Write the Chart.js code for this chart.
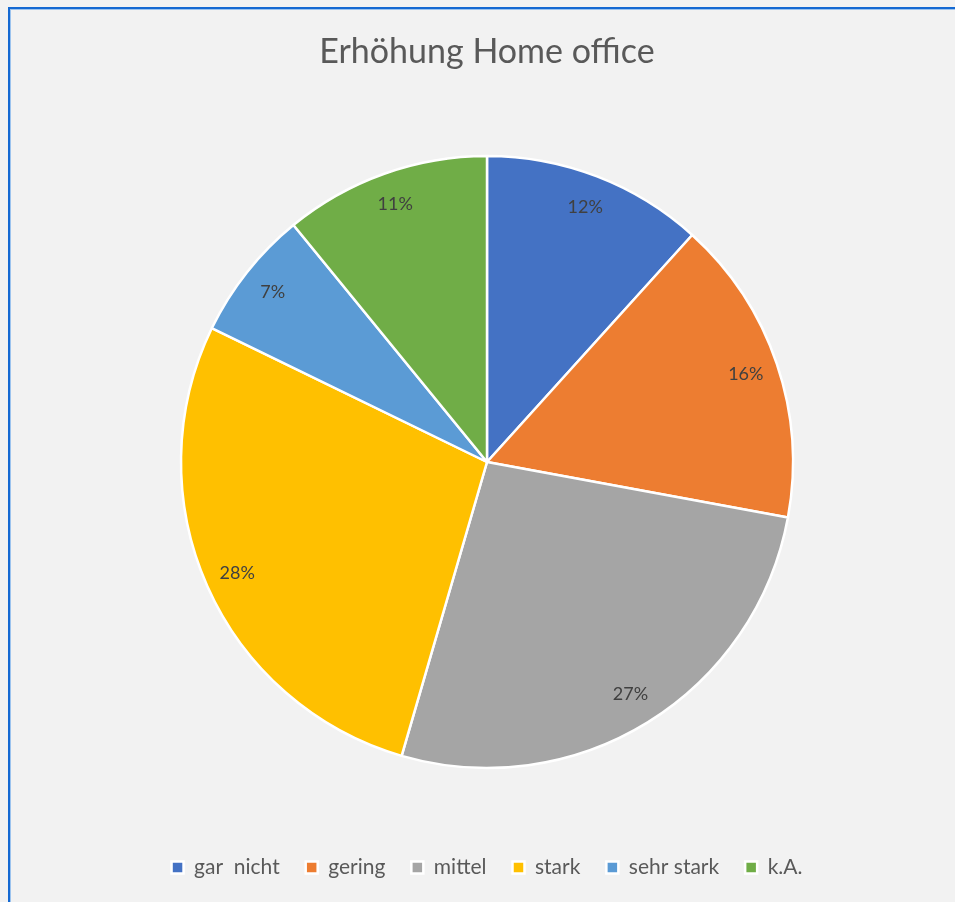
<!DOCTYPE html>
<html>
<head>
<meta charset="utf-8">
<script src="https://cdn.jsdelivr.net/npm/chart.js@4"></script>
<style>
  html, body { margin: 0; padding: 0; background: #f2f2f2; overflow: hidden; }
  #frame {
    position: absolute; left: 8px; top: 7px; width: 1000px; height: 1000px;
    border-left: 2px solid #1469d2; border-top: 2px solid #1469d2;
    box-shadow: inset 1px 1px 0 #9cc3ee;
  }
  #chart { position: absolute; left: 0; top: 0; }
</style>
</head>
<body>
<div id="frame"></div>
<canvas id="chart" width="955" height="902"></canvas>
<script>
const categories = ['gar  nicht', 'gering', 'mittel', 'stark', 'sehr stark', 'k.A.'];
const shares = [11.7, 16.2, 26.6, 27.7, 6.9, 10.9];
const shownPercent = ['12%', '16%', '27%', '28%', '7%', '11%'];
const colors = ['#4472C4', '#ED7D31', '#A5A5A5', '#FFC000', '#5B9BD5', '#70AD47'];

// Prozentwerte in den Segmenten zeichnen
const sliceLabels = {
    id: 'sliceLabels',
    afterDatasetsDraw(chart) {
        const ctx = chart.ctx;
        const meta = chart.getDatasetMeta(0);
        ctx.save();
        ctx.font = "18px Lato, 'Open Sans', sans-serif";
        ctx.fillStyle = '#404040';
        ctx.textAlign = 'center';
        ctx.textBaseline = 'middle';
        meta.data.forEach((arc, i) => {
            const p = arc.getProps(['x', 'y', 'startAngle', 'endAngle', 'outerRadius'], true);
            const mid = (p.startAngle + p.endAngle) / 2;
            const r = p.outerRadius * 0.893;
            ctx.fillText(shownPercent[i], p.x + Math.cos(mid) * r, p.y + Math.sin(mid) * r);
        });
        ctx.restore();
    }
};

new Chart(document.getElementById('chart').getContext('2d'), {
    type: 'pie',
    data: {
        labels: categories,
        datasets: [{
            data: shares,
            backgroundColor: colors,
            borderColor: '#ffffff',
            borderWidth: 2.5,
            radius: 306
        }]
    },
    options: {
        responsive: false,
        animation: false,
        devicePixelRatio: 1,
        layout: { padding: { left: 19, top: 0, right: 0, bottom: 14 } },
        plugins: {
            title: {
                display: true,
                text: 'Erhöhung Home office',
                color: '#595959',
                font: { family: "Lato, 'Open Sans', sans-serif", size: 34, weight: 'normal' },
                padding: { top: 31.6, bottom: 20.6 }
            },
            legend: {
                position: 'bottom',
                labels: {
                    color: '#595959',
                    font: { family: "Lato, 'Open Sans', sans-serif", size: 21 },
                    boxWidth: 12,
                    boxHeight: 12,
                    padding: 26
                }
            },
            tooltip: { enabled: false }
        }
    },
    plugins: [sliceLabels]
});
</script>
</body>
</html>
